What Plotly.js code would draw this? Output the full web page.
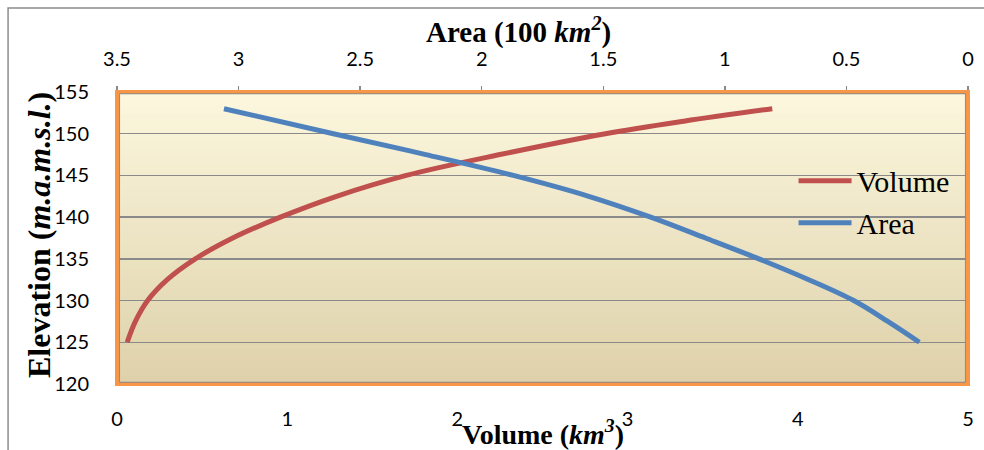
<!DOCTYPE html>
<html>
<head>
<meta charset="utf-8">
<script src="https://cdn.plot.ly/plotly-3.0.1.min.js"></script>
<style>html,body{margin:0;padding:0;background:#fff;}#chart{width:984px;height:450px;}</style>
</head>
<body>
<div id="chart"></div>
<script>
// Elevation (m.a.m.s.l.)
const volElev = [125, 127.5, 130, 132.5, 135, 137.5, 140, 142.5, 145, 147.5, 150, 151.5, 153];
// Volume (km^3)
const volume = [0.06, 0.108, 0.18, 0.295, 0.46, 0.68, 0.96, 1.29, 1.70, 2.25, 2.87, 3.33, 3.85];
const areaElev = [125, 127.5, 130, 132.5, 135, 137.5, 140, 142.5, 145, 147.5, 150, 153];
// Area (100 km^2)
const area = [0.20, 0.33, 0.47, 0.655, 0.86, 1.08, 1.305, 1.56, 1.87, 2.23, 2.61, 3.06];
const volTicks = [0, 1, 2, 3, 4, 5];
const areaTicks = [3.5, 3, 2.5, 2, 1.5, 1, 0.5, 0];
const elevTicks = [120, 125, 130, 135, 140, 145, 150, 155];

const tickFont = {family: 'Lato, "Open Sans", sans-serif', size: 20, color: '#000'};
const serif = 'Liberation Serif, "Times New Roman", serif';

const traces = [
  {x: volume, y: volElev, name: 'Volume', type: 'scatter', mode: 'lines', xaxis: 'x', yaxis: 'y',
   line: {color: '#c0504d', width: 5, shape: 'spline', smoothing: 1}},
  {x: area, y: areaElev, name: 'Area', type: 'scatter', mode: 'lines', xaxis: 'x2', yaxis: 'y',
   line: {color: '#4f81bd', width: 5, shape: 'spline', smoothing: 1}}
];

// gradient background strips
const shapes = [];
const gTop = [252, 247, 222], gBot = [222, 209, 170];
const N = 40;
for (let i = 0; i < N; i++) {
  const t = (i + 0.5) / N;
  const c = gTop.map((v, k) => Math.round(v + (gBot[k] - v) * t));
  shapes.push({type: 'rect', xref: 'paper', yref: 'paper', x0: 0, x1: 1,
    y0: 1 - (i + 1) / N - 0.001, y1: 1 - i / N + 0.001, layer: 'below',
    line: {width: 0}, fillcolor: 'rgb(' + c.join(',') + ')'});
}
// outer chart border
shapes.push({type: 'rect', xref: 'paper', yref: 'paper', x0: -0.128, x1: 1.03, y0: -0.3, y1: 1.2877,
  line: {color: '#8c8c8c', width: 1.5}, fillcolor: 'rgba(0,0,0,0)', layer: 'above'});
// plot border orange + gray
shapes.push({type: 'rect', xref: 'paper', yref: 'paper', x0: 0, x1: 1, y0: 0, y1: 1,
  line: {color: '#f79646', width: 4}, fillcolor: 'rgba(0,0,0,0)', layer: 'above'});
shapes.push({type: 'rect', xref: 'paper', yref: 'paper', x0: 0.003, x1: 0.997, y0: 0.006, y1: 0.994,
  line: {color: '#8a8a8a', width: 1}, fillcolor: 'rgba(0,0,0,0)', layer: 'above'});

const layout = {
  width: 984, height: 450,
  margin: {l: 117, r: 16, t: 92, b: 66},
  paper_bgcolor: '#ffffff',
  plot_bgcolor: 'rgba(0,0,0,0)',
  showlegend: true,
  legend: {x: 0.795, y: 0.785, xanchor: 'left', yanchor: 'top', bgcolor: 'rgba(0,0,0,0)',
    font: {family: serif, size: 30, color: '#000'}, tracegroupgap: 0, itemwidth: 53},
  xaxis: {range: [0, 5], tickvals: volTicks, showgrid: false, zeroline: false, showline: false,
    ticks: '', tickfont: tickFont, ticklabelstandoff: 21, fixedrange: true},
  xaxis2: {range: [3.5, 0], tickvals: areaTicks, overlaying: 'x', side: 'top', anchor: 'y',
    showgrid: false, zeroline: false, showline: false, ticks: 'outside', ticklen: 5,
    tickcolor: '#8a8a8a', tickwidth: 1.5, tickfont: tickFont, ticklabelstandoff: 12},
  yaxis: {range: [120, 155], tickvals: elevTicks, showgrid: true, gridcolor: '#8a8a8a', gridwidth: 1.5,
    zeroline: false, showline: false, ticks: '', tickfont: tickFont, ticklabelstandoff: 27},
  shapes: shapes,
  annotations: [
    {text: '<b>Area (100 <i>km</i><sup><i>2</i></sup>)</b>', xref: 'paper', yref: 'paper',
     x: (518 - 117) / 851, y: (384 - 30) / 292, xanchor: 'center', yanchor: 'middle', showarrow: false,
     font: {family: serif, size: 29, color: '#000'}},
    {text: '<b>Volume (<i>km</i><sup><i>3</i></sup>)</b>', xref: 'paper', yref: 'paper',
     x: (543 - 117) / 851, y: (384 - 432) / 292, xanchor: 'center', yanchor: 'middle', showarrow: false,
     font: {family: serif, size: 28, color: '#000'}},
    {text: '<b>Elevation (<i>m.a.m.s.l.</i>)</b>', xref: 'paper', yref: 'paper',
     x: (39 - 117) / 851, y: (384 - 235) / 292, xanchor: 'center', yanchor: 'middle', showarrow: false,
     textangle: -90, font: {family: serif, size: 32, color: '#000'}}
  ]
};

Plotly.newPlot('chart', traces, layout, {displayModeBar: false, staticPlot: true});
</script>
</body>
</html>
